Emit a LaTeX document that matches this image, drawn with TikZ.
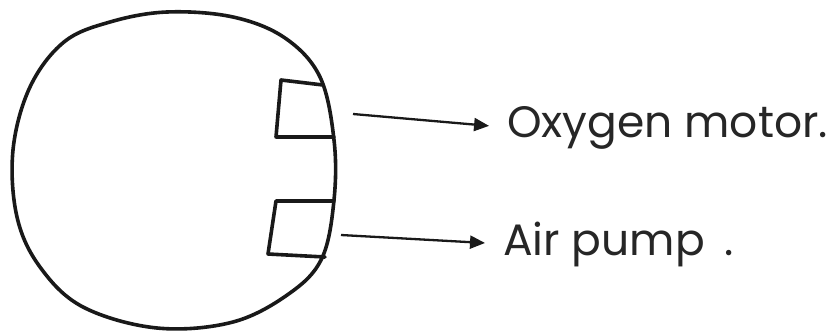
\documentclass[tikz,border=0pt]{standalone}
\usepackage{fontspec}
\setmainfont{Poppins}
\usetikzlibrary{arrows.meta}
\tikzset{
  outline/.style={line width=3.6pt, line join=round, line cap=round, draw=black!90},
  conn/.style={line width=2.3pt, draw=black!90, shorten >=18pt, -{Triangle[length=15pt,width=13pt]}},
  label/.style={anchor=base west, inner sep=0pt, text=black!85, font=\fontsize{44}{46}\selectfont}
}
\begin{document}
\begin{tikzpicture}[x=1pt,y=-1pt]
\useasboundingbox (0,0) rectangle (829,332);
% body
\draw[outline] plot[smooth cycle, tension=0.6] coordinates {
  (167,12) (233,17) (285,38) (320,77) (334,140) (334,200) (322,258)
  (290,293) (233,322) (157,328) (83,307) (40,267) (17,217) (13,150)
  (30,87) (64,42) (110,22)};
% boxes
\draw[outline] (323,85) -- (281,80) -- (276,137) -- (334,137);
\draw[outline] (334,201) -- (276,201) -- (268,254) -- (325,257);
% labels
\node[label] (oxy) at (507,137) {Oxygen motor.};
\node[label] (air) at (503,255) {Air pump\hspace{20pt}.};
% connectors
\coordinate (s1) at (353,114);
\coordinate (s2) at (341,235);
\draw[conn] (s1) -- (oxy.west);
\draw[conn] (s2) -- (air.west);
\end{tikzpicture}
\end{document}
